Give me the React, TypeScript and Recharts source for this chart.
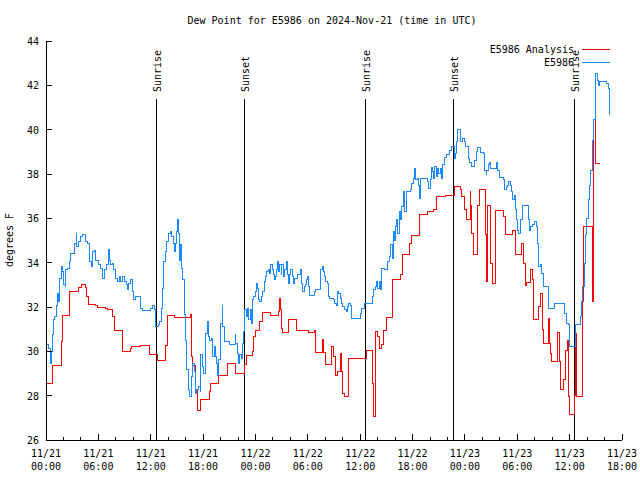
import { LineChart, Line, XAxis, YAxis, ReferenceLine, Legend } from 'recharts';

// hours since 2024-11-21 00:00 UTC
const obsHours = [
  0.08, 0.31, 0.46, 0.61, 0.73, 0.84, 0.99, 1.22, 1.37, 1.45, 1.6, 1.76, 1.91, 2.06, 2.22, 2.29, 2.52, 2.67, 2.83, 3.28,
  3.44, 3.51, 3.74, 3.97, 4.2, 4.51, 4.74, 4.97, 5.04, 5.2, 5.31, 5.5, 5.65, 6.04, 6.19, 6.42, 6.53, 6.72, 6.95, 7.18,
  7.26, 7.41, 7.6, 7.79, 7.95, 8.18, 8.4, 8.56, 8.79, 8.94, 9.17, 9.32, 9.51, 9.63, 9.93, 10.08, 10.24, 10.85, 11.08, 11.99,
  12.22, 12.38, 12.49, 12.87, 13.06, 13.25, 13.37, 13.52, 13.64, 13.83, 14.02, 14.21, 14.4, 14.59, 14.71, 14.85, 14.97, 15.05, 15.16, 15.28,
  15.43, 15.55, 15.66, 15.82, 15.93, 16.12, 16.31, 16.43, 16.7, 16.81, 16.96, 17.11, 17.27, 17.46, 17.65, 17.76, 17.88, 18.03, 18.22, 18.33,
  18.49, 18.6, 18.79, 18.98, 19.1, 19.25, 19.37, 19.48, 19.63, 19.75, 19.94, 20.05, 20.17, 20.28, 20.4, 21.01, 21.66, 21.77, 21.93, 22.04,
  22.15, 22.42, 22.54, 22.62, 22.77, 22.92, 23.0, 23.07, 23.22, 23.38, 23.53, 23.68, 23.83, 23.95, 24.14, 24.25, 24.37, 24.52, 24.64, 24.83,
  24.98, 25.13, 25.29, 25.48, 25.6, 25.75, 25.9, 26.05, 26.16, 26.28, 26.43, 26.58, 26.66, 26.81, 26.93, 27.04, 27.2, 27.35, 27.51, 27.62,
  27.77, 27.88, 28.04, 28.19, 28.34, 28.46, 28.84, 29.14, 29.3, 29.41, 29.57, 29.72, 29.87, 29.98, 30.1, 30.21, 30.71, 30.86, 31.4, 31.51,
  31.63, 31.78, 31.9, 32.05, 32.24, 32.35, 32.54, 32.92, 33.08, 33.23, 33.38, 33.54, 33.69, 33.84, 33.96, 34.15, 34.38, 34.53, 34.68, 34.91,
  35.06, 35.98, 36.17, 36.44, 37.43, 37.58, 37.74, 37.89, 38.04, 38.2, 38.35, 38.46, 38.81, 39.11, 39.34, 39.5, 39.65, 39.8, 39.91, 40.03,
  40.18, 40.33, 40.49, 40.64, 40.79, 40.95, 41.1, 41.25, 41.71, 41.9, 42.09, 42.21, 42.36, 42.55, 42.7, 42.78, 42.93, 43.7, 43.85, 44.0,
  44.12, 44.27, 44.38, 44.54, 44.69, 44.84, 45.0, 45.15, 45.34, 45.45, 45.61, 45.84, 46.23, 46.49, 46.79, 46.91, 47.06, 47.2, 47.5, 47.72,
  47.95, 48.1, 48.4, 48.58, 48.78, 49.12, 49.35, 49.43, 49.81, 50.11, 50.23, 50.3, 50.42, 50.5, 50.69, 50.8, 50.95, 51.64, 51.79, 51.95,
  52.4, 52.56, 52.71, 52.86, 53.02, 53.17, 53.32, 53.47, 53.63, 53.74, 53.86, 54.01, 54.16, 54.39, 54.55, 55.23, 55.38, 55.54, 55.77, 56.0,
  56.15, 56.3, 56.46, 56.61, 56.76, 56.99, 57.6, 58.21, 59.43, 59.66, 59.89, 60.04, 60.7, 61.19, 61.34, 61.49, 61.65, 61.8, 61.95, 62.11,
  62.26, 62.41, 62.57, 62.72, 62.91, 63.02, 63.18, 63.3, 63.41, 64.24, 64.44, 64.59,
];
const obsDewF = [
  30.33, 30.14, 29.46, 29.99, 30.74, 31.42, 31.56, 32.09, 32.62, 32.24, 33.3, 33.82, 33.6, 33.0, 32.92, 33.67, 33.75, 34.05, 34.42, 34.87,
  35.33, 34.72, 34.95, 35.17, 35.28, 34.95, 34.87, 34.42, 34.05, 33.82, 34.5, 34.57, 34.12, 33.9, 33.75, 33.6, 33.3, 33.67, 33.9, 34.6,
  34.12, 33.9, 33.97, 33.67, 33.3, 33.15, 33.37, 33.15, 33.37, 33.15, 33.0, 32.77, 33.07, 33.22, 32.7, 32.32, 32.47, 31.94, 31.82, 31.94,
  32.05, 31.87, 31.11, 31.2, 31.34, 31.94, 32.85, 34.05, 34.5, 34.95, 35.33, 35.4, 35.17, 34.87, 34.5, 34.87, 35.4, 35.96, 35.33, 34.12,
  34.8, 33.75, 33.22, 31.64, 30.51, 29.16, 28.26, 27.95, 28.85, 29.46, 29.08, 28.11, 28.26, 28.41, 28.18, 29.84, 29.31, 29.01, 30.36, 30.8,
  31.33, 30.66, 30.51, 30.59, 29.76, 30.21, 29.76, 29.46, 28.93, 29.61, 30.06, 31.25, 32.06, 31.11, 30.44, 30.29, 30.74, 30.36, 29.91, 29.46,
  29.84, 29.69, 30.36, 30.89, 31.87, 31.79, 31.57, 31.94, 31.42, 31.87, 31.27, 32.32, 32.47, 32.69, 33.07, 32.84, 32.32, 32.24, 32.47, 32.69,
  33.14, 33.37, 33.59, 33.67, 33.52, 33.9, 33.67, 33.45, 33.22, 33.37, 33.67, 34.05, 33.59, 33.9, 33.45, 33.9, 33.37, 33.67, 34.05, 33.45,
  33.07, 33.45, 33.67, 33.37, 33.07, 33.3, 33.45, 33.67, 33.07, 32.69, 32.92, 33.0, 33.22, 33.37, 32.92, 32.5, 32.69, 32.77, 33.37, 33.67,
  33.82, 33.59, 33.37, 33.14, 33.07, 32.47, 32.39, 32.32, 32.17, 32.09, 32.69, 32.62, 32.39, 32.17, 32.02, 31.87, 31.79, 32.02, 32.17, 32.09,
  31.49, 31.72, 31.94, 32.14, 32.47, 32.77, 32.92, 33.14, 32.84, 33.14, 32.8, 33.75, 33.67, 34.05, 34.27, 34.8, 34.2, 35.4, 35.02, 35.63,
  35.93, 35.32, 36.3, 35.93, 36.53, 37.2, 36.3, 37.2, 37.28, 37.58, 37.81, 38.26, 37.73, 37.81, 37.5, 36.9, 37.81, 37.65, 37.35, 37.73,
  38.3, 38.11, 37.81, 38.33, 37.88, 38.26, 38.03, 38.26, 37.81, 38.45, 38.75, 38.86, 39.08, 39.26, 38.71, 38.93, 39.46, 40.0, 39.46, 39.6,
  39.46, 39.23, 38.7, 38.51, 38.33, 38.63, 39.01, 39.2, 38.96, 38.93, 38.63, 38.18, 37.96, 38.18, 38.41, 38.51, 38.26, 38.51, 38.18, 37.85,
  37.73, 37.28, 37.43, 37.5, 37.65, 37.5, 37.2, 36.83, 37.05, 36.38, 35.93, 35.47, 35.32, 35.93, 36.6, 35.93, 35.47, 35.63, 35.7, 35.85,
  35.63, 34.87, 33.82, 33.9, 33.52, 32.92, 31.94, 32.17, 31.72, 31.27, 31.19, 30.21, 31.19, 31.57, 32.24, 32.92, 33.97, 35.25, 36.0, 36.83,
  37.5, 38.18, 39.53, 40.44, 41.49, 42.54, 42.24, 42.0, 42.17, 42.09, 41.87, 40.66,
];

const analysisHours = [
  0, 0.73, 1.76, 1.87, 2.64, 3.78, 4.05, 4.5, 4.66, 4.85, 5.7, 5.9, 6.85, 7.03, 7.57, 7.8, 8.8, 9.64, 9.83, 10.8,
  11.82, 12.76, 13.64, 13.94, 14.71, 16.58, 16.7, 16.81, 17.15, 17.38, 17.72, 18.79, 18.9, 19.79, 20.78, 21.77, 22.69, 22.92, 23.61, 23.83,
  24.06, 24.52, 24.75, 25.78, 26.66, 26.74, 26.85, 26.97, 27.15, 27.77, 28.72, 30.06, 30.71, 30.9, 31.7, 31.78, 32.08, 32.77, 32.92, 33.2,
  33.43, 33.77, 33.86, 33.96, 34.26, 34.68, 36.67, 37.43, 37.5, 37.58, 37.74, 37.95, 38.2, 38.44, 38.65, 38.96, 39.69, 40.64, 40.83, 41.7,
  41.9, 42.74, 43.77, 44.38, 44.77, 45.72, 46.75, 47.44, 47.63, 47.9, 48.13, 48.6, 48.66, 48.78, 48.97, 49.43, 49.65, 50.38, 50.5, 50.57,
  50.95, 51.14, 51.56, 52.41, 52.6, 53.47, 53.81, 54.5, 54.77, 54.96, 55.08, 55.54, 55.73, 55.84, 56.41, 56.68, 56.87, 56.99, 57.56, 57.64,
  57.75, 57.9, 58.59, 58.82, 58.97, 59.28, 59.55, 59.74, 59.89, 60.04, 60.54, 60.66, 60.81, 61.42, 61.61, 62.57, 62.72, 62.99, 63.47,
];
const analysisDewF = [
  28.56, 29.34, 30.44, 31.6, 32.72, 32.87, 33.02, 32.87, 32.47, 32.12, 32.05, 31.99, 31.95, 31.9, 31.56, 30.96, 30.0, 30.12, 30.24, 30.27,
  29.84, 29.57, 30.26, 31.6, 31.51, 31.64, 29.76, 29.36, 28.26, 27.33, 27.84, 28.18, 28.57, 28.89, 29.43, 29.01, 29.39, 29.79, 29.99, 30.69,
  30.92, 31.34, 31.76, 31.6, 31.78, 32.39, 31.9, 31.01, 30.87, 31.45, 30.96, 30.87, 30.96, 29.94, 30.54, 29.94, 29.39, 30.21, 29.76, 28.89,
  29.09, 29.91, 29.09, 28.08, 27.94, 29.69, 30.06, 28.56, 28.11, 27.05, 30.89, 30.66, 30.14, 30.3, 30.96, 31.54, 33.22, 33.48, 34.38, 34.87,
  35.22, 36.18, 36.33, 36.38, 36.98, 37.04, 37.43, 37.28, 36.98, 36.38, 35.96, 37.2, 36.6, 35.32, 34.38, 36.56, 37.28, 35.25, 33.14, 36.6,
  33.94, 33.04, 36.35, 36.08, 35.25, 35.47, 34.35, 34.87, 33.94, 32.99, 33.11, 33.67, 33.22, 31.44, 32.02, 32.62, 30.99, 30.36, 31.49, 30.36,
  29.91, 29.54, 30.86, 29.54, 28.26, 28.71, 30.06, 30.48, 27.96, 27.13, 28.0, 30.81, 27.96, 32.24, 35.63, 32.24, 40.44, 38.48, 38.48,
];

const sunHours = [12.64, 22.72, 36.59, 46.67, 60.54];
const sunLabels = ['Sunrise', 'Sunset', 'Sunrise', 'Sunset', 'Sunrise'];

const xTickHours = [0, 6, 12, 18, 24, 30, 36, 42, 48, 54, 60, 66];
const xTickDates = ['11/21', '11/21', '11/21', '11/21', '11/22', '11/22', '11/22', '11/22', '11/23', '11/23', '11/23', '11/23'];
const xTickTimes = ['00:00', '06:00', '12:00', '18:00', '00:00', '06:00', '12:00', '18:00', '00:00', '06:00', '12:00', '18:00'];
const yTicks = [26, 28, 30, 32, 34, 36, 38, 40, 42, 44];

const seriesNames = ['E5986 Analysis', 'E5986'];
const seriesColors = ['#ff0000', '#1a88ff'];

const FONT = '"DejaVu Sans Mono", "Liberation Mono", monospace';
const SUN_LINE_TOP = 41.38;

const obsData = obsHours.map((h, i) => ({ h, v: obsDewF[i] }));
const analysisData = analysisHours.map((h, i) => ({ h, v: analysisDewF[i] }));
const allXTicks = Array.from({ length: 34 }, (_, i) => i * 2);

function BottomTick({ x, y, payload }: any) {
  const i = xTickHours.indexOf(payload.value);
  const len = i >= 0 ? 6 : 3;
  return (
    <g>
      <line x1={x} x2={x} y1={y} y2={y - len} stroke="#000" shapeRendering="crispEdges" />
      {i >= 0 && (
        <text textAnchor="middle" fontFamily={FONT} fontSize={10} fill="#000">
          <tspan x={x} y={y + 17}>{xTickDates[i]}</tspan>
          <tspan x={x} y={y + 30}>{xTickTimes[i]}</tspan>
        </text>
      )}
    </g>
  );
}

function TopTick({ x, y, payload }: any) {
  const len = xTickHours.includes(payload.value) ? 6 : 3;
  return <line x1={x} x2={x} y1={y} y2={y + len} stroke="#000" shapeRendering="crispEdges" />;
}

function LeftTick({ x, y, payload }: any) {
  return (
    <g>
      <line x1={x} x2={x + 6} y1={y} y2={y} stroke="#000" shapeRendering="crispEdges" />
      <text x={x - 7} y={y + 4} textAnchor="end" fontFamily={FONT} fontSize={10} fill="#000">
        {payload.value}
      </text>
    </g>
  );
}

function RightTick({ x, y }: any) {
  return <line x1={x} x2={x - 6} y1={y} y2={y} stroke="#000" shapeRendering="crispEdges" />;
}

function SunLabel({ viewBox, text }: any) {
  const x = viewBox.x + 5;
  const y = viewBox.y - 7;
  return (
    <text x={x} y={y} transform={`rotate(-90 ${x} ${y})`} fontFamily={FONT} fontSize={10} fill="#000">
      {text}
    </text>
  );
}

function LegendBox({ payload }: any) {
  const items = [...(payload || [])].sort(
    (a: any, b: any) => seriesNames.indexOf(a.value) - seriesNames.indexOf(b.value),
  );
  return (
    <svg width={180} height={28} style={{ display: 'block' }}>
      {items.map((p: any, i: number) => (
        <g key={i}>
          <text x={134} y={11 + 13 * i} textAnchor="end" fontFamily={FONT} fontSize={10} fill="#000">
            {p.value}
          </text>
          <line x1={142} x2={170} y1={7.5 + 13 * i} y2={7.5 + 13 * i} stroke={p.color} shapeRendering="crispEdges" />
        </g>
      ))}
    </svg>
  );
}

export default function App() {
  return (
    <div style={{ position: 'absolute', left: 0, top: 0, width: 640, height: 480, background: '#fff' }}>
      <LineChart width={640} height={480} margin={{ top: 41, right: 18, bottom: 0, left: 0 }}>
        <XAxis
          xAxisId="b"
          dataKey="h"
          type="number"
          domain={[0, 66]}
          ticks={allXTicks}
          interval={0}
          height={40}
          tickSize={0}
          tickMargin={0}
          tickLine={false}
          axisLine={{ stroke: '#000', shapeRendering: 'crispEdges' }}
          tick={<BottomTick />}
          allowDataOverflow
        />
        <XAxis
          xAxisId="t"
          orientation="top"
          dataKey="h"
          type="number"
          domain={[0, 66]}
          ticks={allXTicks}
          interval={0}
          height={0}
          tickSize={0}
          tickMargin={0}
          tickLine={false}
          axisLine={{ stroke: '#000', shapeRendering: 'crispEdges' }}
          tick={<TopTick />}
          allowDataOverflow
        />
        <YAxis
          yAxisId="l"
          type="number"
          domain={[26, 44]}
          ticks={yTicks}
          interval={0}
          width={46}
          tickSize={0}
          tickMargin={0}
          tickLine={false}
          axisLine={{ stroke: '#000', shapeRendering: 'crispEdges' }}
          tick={<LeftTick />}
          allowDataOverflow
        />
        <YAxis
          yAxisId="r"
          orientation="right"
          type="number"
          domain={[26, 44]}
          ticks={yTicks}
          interval={0}
          width={0}
          tickSize={0}
          tickMargin={0}
          tickLine={false}
          axisLine={{ stroke: '#000', shapeRendering: 'crispEdges' }}
          tick={<RightTick />}
          allowDataOverflow
        />
        {sunHours.map((h, i) => (
          <ReferenceLine
            key={i}
            xAxisId="b"
            yAxisId="l"
            segment={[{ x: h, y: 26 }, { x: h, y: SUN_LINE_TOP }]}
            stroke="#000"
            strokeWidth={1}
            shapeRendering="crispEdges"
            label={(p: any) => <SunLabel viewBox={p.viewBox} text={sunLabels[i]} />}
          />
        ))}
        <Line
          xAxisId="b"
          yAxisId="l"
          data={analysisData}
          dataKey="v"
          name={seriesNames[0]}
          type="stepAfter"
          stroke={seriesColors[0]}
          strokeWidth={1}
          shapeRendering="crispEdges"
          dot={false}
          activeDot={false}
          isAnimationActive={false}
        />
        <Line
          xAxisId="b"
          yAxisId="l"
          data={obsData}
          dataKey="v"
          name={seriesNames[1]}
          type="stepAfter"
          stroke={seriesColors[1]}
          strokeWidth={1}
          shapeRendering="crispEdges"
          dot={false}
          activeDot={false}
          isAnimationActive={false}
        />
        <Legend
          layout="vertical"
          align="center"
          verticalAlign="middle"
          content={<LegendBox />}
          wrapperStyle={{ left: 440, top: 42, width: 180, height: 28 }}
        />
      </LineChart>
      <svg width={640} height={480} style={{ position: 'absolute', left: 0, top: 0, pointerEvents: 'none' }}>
        <text x={332} y={24} textAnchor="middle" fontFamily={FONT} fontSize={10} fill="#000">
          Dew Point for E5986 on 2024-Nov-21 (time in UTC)
        </text>
        <text x={13} y={240} textAnchor="middle" transform="rotate(-90 13 240)" fontFamily={FONT} fontSize={10} fill="#000">
          degrees F
        </text>
      </svg>
    </div>
  );
}
